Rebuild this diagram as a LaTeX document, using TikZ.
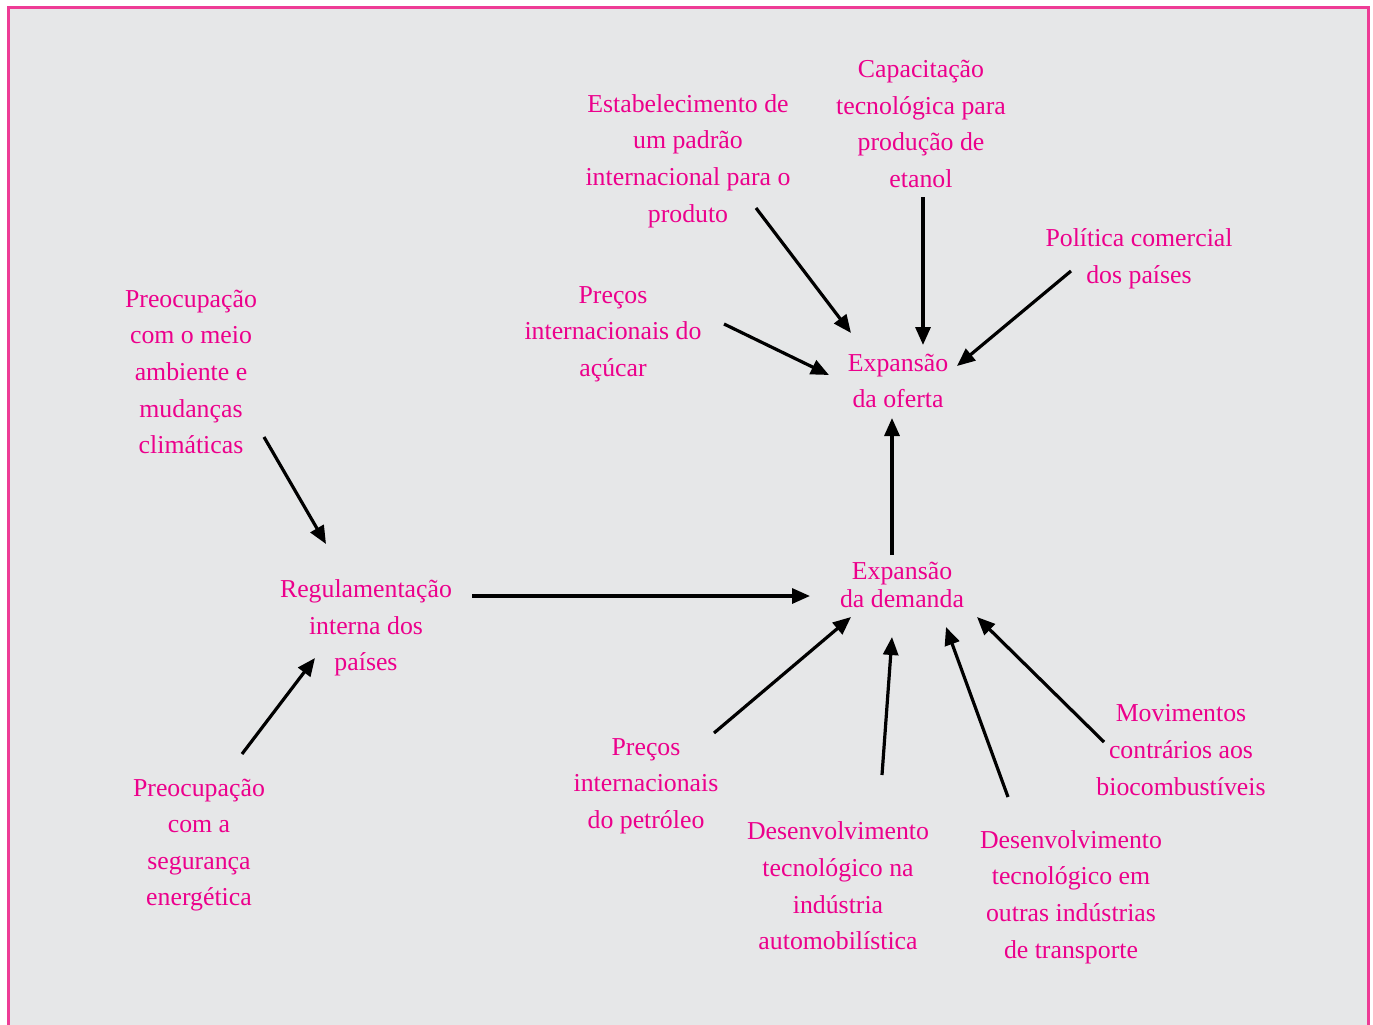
\documentclass[tikz,border=0pt]{standalone}
\usepackage{fontspec}
\setmainfont{Liberation Serif}
\usetikzlibrary{arrows.meta}
\definecolor{pinktext}{RGB}{236,0,140}
\definecolor{pinkborder}{RGB}{238,60,150}
\definecolor{bggrey}{RGB}{230,231,232}
\begin{document}
\begin{tikzpicture}[x=1pt,y=-1pt,
  lbl/.style={text=pinktext, align=center, inner sep=0pt, font=\fontsize{25.8}{36.6}\selectfont},
  arr/.style={line width=3.2pt, -{Triangle[length=18pt,width=15pt]}}]
\useasboundingbox (0,0) rectangle (1373,1025);
\fill[white] (0,0) rectangle (1373,1025);
\fill[bggrey] (8,8) rectangle (1368,1025);
\draw[pinkborder, line width=3pt] (8,1025) -- (8,8) -- (1368,8) -- (1368,1025);

% labels
\node[lbl] (estab) at (688,161) {Estabelecimento de\\um padrão\\internacional para o\\produto};
\node[lbl] (capac) at (921,124) {Capacitação\\tecnológica para\\produção de\\etanol};
\node[lbl] (polit) at (1139,259) {Política comercial\\dos países};
\node[lbl] (acucar) at (613,334) {Preços\\internacionais do\\açúcar};
\node[lbl] (oferta) at (898,381) {Expansão\\da oferta};
\node[lbl] (meio) at (191,372) {Preocupação\\com o meio\\ambiente e\\mudanças\\climáticas};
\node[lbl] (regul) at (366,628) {Regulamentação\\interna dos\\países};
\node[lbl, font=\fontsize{25.8}{28}\selectfont] (demanda) at (902,585) {Expansão\\da demanda};
\node[lbl] (seg) at (199,845) {Preocupação\\com a\\segurança\\energética};
\node[lbl] (petro) at (646,786) {Preços\\internacionais\\do petróleo};
\node[lbl] (auto) at (838,886) {Desenvolvimento\\tecnológico na\\indústria\\automobilística};
\node[lbl] (transp) at (1071,897) {Desenvolvimento\\tecnológico em\\outras indústrias\\de transporte};
\node[lbl] (movim) at (1181,750) {Movimentos\\contrários aos\\biocombustíveis};

% arrow end points
\coordinate (a1s) at (756,208);  \coordinate (a1e) at (851,333);
\coordinate (a2s) at (923,197);  \coordinate (a2e) at (923,345);
\coordinate (a3s) at (1071,271); \coordinate (a3e) at (957,366);
\coordinate (a4s) at (724,324);  \coordinate (a4e) at (829,375);
\coordinate (a5s) at (264,437);  \coordinate (a5e) at (326,544);
\coordinate (a6s) at (472,596);  \coordinate (a6e) at (810,596);
\coordinate (a7s) at (892,555);  \coordinate (a7e) at (892,418);
\coordinate (a8s) at (242,754);  \coordinate (a8e) at (315,658);
\coordinate (a9s) at (714,733);  \coordinate (a9e) at (851,617);
\coordinate (a10s) at (882,775); \coordinate (a10e) at (892,637);
\coordinate (a11s) at (1008,797);\coordinate (a11e) at (946,627);
\coordinate (a12s) at (1104,742);\coordinate (a12e) at (977,617);

\draw[arr] (a1s) -- (a1e);
\draw[arr] (a2s) -- (a2e);
\draw[arr] (a3s) -- (a3e);
\draw[arr] (a4s) -- (a4e);
\draw[arr] (a5s) -- (a5e);
\draw[arr] (a6s) -- (a6e);
\draw[arr] (a7s) -- (a7e);
\draw[arr] (a8s) -- (a8e);
\draw[arr] (a9s) -- (a9e);
\draw[arr] (a10s) -- (a10e);
\draw[arr] (a11s) -- (a11e);
\draw[arr] (a12s) -- (a12e);
\end{tikzpicture}
\end{document}
